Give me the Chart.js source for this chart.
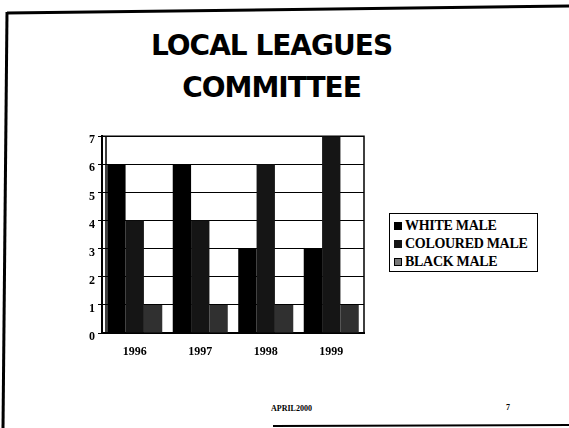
<!DOCTYPE html>
<html>
<head>
<meta charset="utf-8">
<script src="https://cdn.jsdelivr.net/npm/chart.js@4.4.1/dist/chart.umd.min.js"></script>
<style>
  html, body { margin: 0; padding: 0; background: #fff; }
  #slide { position: relative; width: 569px; height: 428px; overflow: hidden; background: #fff; }
  #frame { position: absolute; left: 0; top: 0; }
  .title {
    position: absolute; left: -13px; width: 569px; text-align: center;
    font-family: "DejaVu Sans", sans-serif; font-weight: bold; font-size: 28px;
    color: #000; letter-spacing: -1px;
  }
  #chart-wrap { position: absolute; left: 60px; top: 126px; width: 310px; height: 245px; }
  #legend {
    position: absolute; left: 389px; top: 213px; width: 149px; height: 59px;
    border: 1px solid #000; padding: 3px 0 0 4px; box-sizing: border-box;
    font-family: "Liberation Serif", serif; font-weight: bold; font-size: 14px; color: #000;
    letter-spacing: -0.3px;
  }
  #legend div { height: 18px; line-height: 18px; white-space: nowrap; }
  #legend span.box { display: inline-block; width: 8px; height: 8px; margin-right: 3px; vertical-align: 0px; box-sizing: border-box; }
  .foot { position: absolute; font-family: "Liberation Serif", serif; font-weight: bold; font-size: 8px; color: #000; }
</style>
</head>
<body>
<div id="slide">
  <svg id="frame" width="569" height="428">
    <line x1="7" y1="13" x2="569" y2="6" stroke="#000" stroke-width="3"/>
    <line x1="7" y1="12" x2="3" y2="428" stroke="#000" stroke-width="3"/>
    <line x1="273" y1="426" x2="569" y2="425" stroke="#000" stroke-width="2"/>
  </svg>
  <div class="title" style="top: 29px;">LOCAL LEAGUES</div>
  <div class="title" style="top: 71px;">COMMITTEE</div>
  <div id="chart-wrap"><canvas id="chart"></canvas></div>
  <div id="legend"></div>
  <div class="foot" style="left: 271px; top: 404px;">APRIL2000</div>
  <div class="foot" style="left: 506px; top: 403px;">7</div>
</div>
<script>
// Committee make-up per year
const years = ["1996", "1997", "1998", "1999"]
const whiteMale = [6, 6, 3, 3]
const colouredMale = [4, 4, 6, 7]
const blackMale = [1, 1, 1, 1]
const seriesNames = ["WHITE MALE", "COLOURED MALE", "BLACK MALE"]
const yTicks = [0, 1, 2, 3, 4, 5, 6, 7]

const seriesColors = ["#000000", "#151515", "#303030"]
const tickFont = { family: "Liberation Serif", weight: "bold", size: 12 }

// Back wall outline: top and right edges plus the inner side line
const wallBorder = {
  id: "wallBorder",
  beforeDatasetsDraw(chart) {
    const { ctx, chartArea } = chart
    ctx.save()
    ctx.strokeStyle = "#000"
    ctx.lineWidth = 1.5
    ctx.beginPath()
    ctx.moveTo(chartArea.left, chartArea.top)
    ctx.lineTo(chartArea.right, chartArea.top)
    ctx.lineTo(chartArea.right, chartArea.bottom)
    ctx.moveTo(chartArea.left + 4, chartArea.top)
    ctx.lineTo(chartArea.left + 4, chartArea.bottom)
    ctx.stroke()
    ctx.restore()
  },
}

const datasets = [whiteMale, colouredMale, blackMale].map((values, i) => ({
  label: seriesNames[i],
  data: values,
  backgroundColor: seriesColors[i],
  borderWidth: 0,
}))

new Chart(document.getElementById("chart"), {
  type: "bar",
  data: { labels: years, datasets: datasets },
  options: {
    responsive: true,
    maintainAspectRatio: false,
    animation: false,
    layout: { padding: { top: 10, right: 6, left: 0, bottom: 0 } },
    datasets: { bar: { categoryPercentage: 0.84, barPercentage: 1.0 } },
    plugins: { legend: { display: false }, tooltip: { enabled: false } },
    scales: {
      x: {
        grid: { display: false, drawTicks: false },
        border: { color: "#000", width: 2 },
        ticks: { color: "#000", font: tickFont, padding: 12 },
        afterFit: (scale) => { scale.height = 38 },
      },
      y: {
        min: 0,
        max: 7,
        afterBuildTicks: (scale) => { scale.ticks = yTicks.map((v) => ({ value: v })) },
        grid: { color: "#000", lineWidth: 1, tickLength: 4, drawTicks: true },
        border: { color: "#000", width: 2 },
        ticks: { color: "#000", font: tickFont, padding: 3, labelOffset: 4 },
        afterFit: (scale) => { scale.width = 42 },
      },
    },
  },
  plugins: [wallBorder],
})

// Legend box built from the same series
const legend = document.getElementById("legend")
seriesNames.forEach((name, i) => {
  const row = document.createElement("div")
  const box = i === 2
    ? '<span class="box" style="border:1.5px solid #000;background:#777"></span>'
    : '<span class="box" style="background:' + seriesColors[i] + '"></span>'
  row.innerHTML = box + name
  legend.appendChild(row)
})
</script>
</body>
</html>
